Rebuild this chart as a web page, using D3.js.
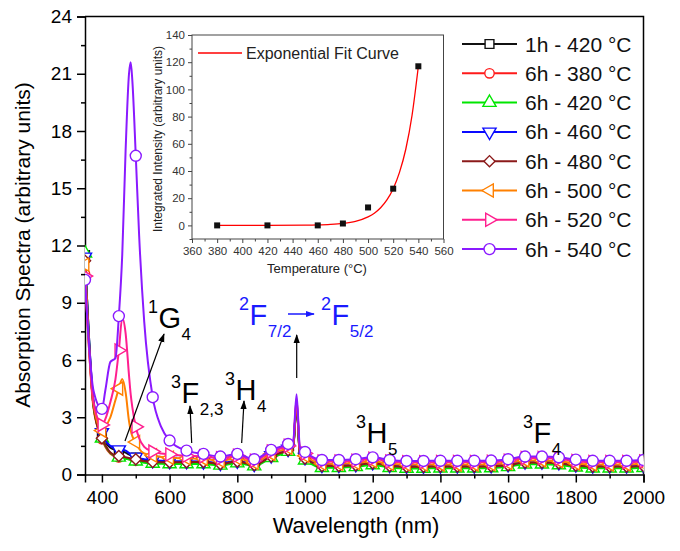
<!DOCTYPE html>
<html>
<head>
<meta charset="utf-8">
<script src="https://cdn.jsdelivr.net/npm/d3@7"></script>
<style>
    body { margin: 0; background: #fff; }
    svg { font-family: Arial, "Liberation Sans", Helvetica, sans-serif; }
</style>
</head>
<body>
<svg id="chart" width="680" height="551"></svg>
<script>
// wavelength grid (nm) shared by all spectra
var wavelengths = [350,375,400,410,425,440,450,460,470,480,485,490,500,510,525,550,575,600,
    650,700,750,800,850,900,950,965,975,985,
    1000,1050,1100,1150,1200,1250,1300,1350,1400,1450,1500,1550,1600,1650,1700,1750,1800,1850,1900,1950,2000];

var seriesNames = ["1h - 420 °C","6h - 380 °C","6h - 420 °C","6h - 460 °C","6h - 480 °C","6h - 500 °C","6h - 520 °C","6h - 540 °C"];
var seriesColors = ["#111111","#ff1a1a","#00e600","#0a0aff","#8b1a1a","#ff8000","#ff1f8f","#8a1aff"];
var seriesSymbols = ["square","circle","triangleUp","triangleDown","diamond","triangleLeft","triangleRight","bigCircle"];

var abs1h420 = [11.5,3.8,2.05,1.7,1.4,1.28,1.22,1.2,1.15,1.05,1.0,0.95,0.88,0.82,0.76,0.72,0.68,0.66,
    0.66,0.64,0.56,0.68,0.52,0.96,1.3,1.45,3.7,1.05,
    0.85,0.47,0.47,0.51,0.61,0.47,0.43,0.43,0.44,0.44,0.44,0.45,0.51,0.65,0.65,0.61,0.49,0.44,0.44,0.44,0.47];
var abs6h380 = [10.5,3.5,1.85,1.45,1.08,0.95,0.9,0.88,0.85,0.8,0.78,0.76,0.72,0.7,0.65,0.62,0.6,0.6,
    0.6,0.6,0.52,0.64,0.48,0.92,1.25,1.4,3.6,1.0,
    0.8,0.42,0.42,0.46,0.56,0.42,0.38,0.38,0.39,0.39,0.39,0.4,0.46,0.6,0.6,0.56,0.44,0.39,0.39,0.39,0.42];
var abs6h420 = [11.6,3.6,1.9,1.5,1.12,0.95,0.9,0.87,0.83,0.78,0.76,0.74,0.7,0.66,0.62,0.58,0.56,0.55,
    0.55,0.55,0.48,0.6,0.44,0.88,1.2,1.36,3.6,0.95,
    0.75,0.36,0.36,0.4,0.5,0.36,0.32,0.32,0.33,0.33,0.33,0.34,0.4,0.54,0.54,0.5,0.38,0.33,0.33,0.33,0.36];
var abs6h460 = [11.4,3.9,2.2,1.8,1.5,1.35,1.3,1.3,1.25,1.12,1.06,1.0,0.92,0.86,0.8,0.75,0.72,0.7,
    0.7,0.68,0.6,0.72,0.55,1.0,1.33,1.48,3.8,1.1,
    0.9,0.5,0.5,0.54,0.64,0.5,0.46,0.46,0.47,0.47,0.47,0.48,0.54,0.68,0.68,0.64,0.52,0.47,0.47,0.47,0.5];
var abs6h480 = [11.2,3.6,1.9,1.55,1.15,1.0,0.97,0.95,0.9,0.86,0.84,0.82,0.8,0.75,0.7,0.66,0.64,0.64,
    0.64,0.66,0.55,0.68,0.5,0.95,1.28,1.42,3.7,1.02,
    0.84,0.45,0.45,0.49,0.59,0.45,0.41,0.41,0.42,0.42,0.42,0.43,0.49,0.63,0.63,0.59,0.47,0.42,0.42,0.42,0.45];
var abs6h500 = [11.0,3.7,2.3,2.5,3.0,3.9,4.5,5.0,4.3,2.8,2.3,2.0,1.7,1.35,1.1,1.0,0.92,0.88,
    0.85,0.82,0.72,0.85,0.62,1.08,1.4,1.55,3.9,1.2,
    0.98,0.56,0.56,0.6,0.7,0.56,0.52,0.52,0.53,0.53,0.53,0.54,0.6,0.74,0.74,0.7,0.58,0.53,0.53,0.53,0.56];
var abs6h520 = [10.4,3.8,2.6,2.9,3.8,5.0,6.5,8.2,7.4,5.2,4.2,3.5,2.5,1.9,1.45,1.2,1.1,1.05,
    0.98,0.95,0.85,0.98,0.72,1.2,1.5,1.65,4.0,1.3,
    1.1,0.68,0.68,0.72,0.82,0.68,0.64,0.64,0.65,0.65,0.65,0.66,0.72,0.86,0.86,0.82,0.7,0.65,0.65,0.65,0.68];
var abs6h540 = [10.2,4.4,3.44,4.4,5.9,6.1,8.3,11.5,17.0,21.0,21.6,20.6,16.7,12.5,8.0,4.05,2.5,1.78,
    1.25,1.08,0.94,1.08,0.8,1.29,1.6,1.75,4.2,1.4,
    1.18,0.76,0.76,0.8,0.9,0.76,0.71,0.71,0.72,0.72,0.72,0.73,0.8,0.94,0.94,0.9,0.78,0.72,0.72,0.72,0.76];
var spectra = [abs1h420,abs6h380,abs6h420,abs6h460,abs6h480,abs6h500,abs6h520,abs6h540];

// inset: integrated intensity vs temperature
var insetTemps = [380,420,460,480,500,520,540];
var insetIntensity = [0,0,0,1.4,13.2,27,117];
var fitTemps = [380,420,450,460,470,480,490,500,505,510,515,520,525,530,535,540];
var fitIntensity = [0,0.02,0.16,0.33,0.7,1.45,3.0,6.3,9.0,13,18.7,27,39,56,81,117];

var xTicks = [400,600,800,1000,1200,1400,1600,1800,2000];
var xMinor = [500,700,900,1100,1300,1500,1700,1900];
var yTicks = [0,3,6,9,12,15,18,21,24];
var yMinor = [1.5,4.5,7.5,10.5,13.5,16.5,19.5,22.5];
var insetXTicks = [360,380,400,420,440,460,480,500,520,540,560];
var insetYTicks = [0,20,40,60,80,100,120,140];

var svg = d3.select("#chart");

var x = d3.scaleLinear().domain([350, 2000]).range([85, 643.5]);
var y = d3.scaleLinear().domain([0, 24]).range([474.5, 16.5]);

// arrowheads
var defs = svg.append("defs");
[["arr", "#000"], ["arrBlue", "#1a1aff"]].forEach(function (m) {
    defs.append("marker")
        .attr("id", m[0]).attr("viewBox", "0 0 10 10")
        .attr("refX", 9).attr("refY", 5)
        .attr("markerWidth", 9).attr("markerHeight", 9)
        .attr("markerUnits", "userSpaceOnUse")
        .attr("orient", "auto")
        .append("path").attr("d", "M0,1.5L10,5L0,8.5Z").attr("fill", m[1]);
});
defs.append("clipPath").attr("id", "plotClip")
    .append("rect").attr("x", 85).attr("y", 16.5).attr("width", 558.5).attr("height", 458);

// axes
svg.append("g").attr("transform", "translate(0," + y(0) + ")")
    .call(d3.axisBottom(x).tickValues(xTicks).tickSize(8).tickPadding(8).tickFormat(d3.format("d")));
svg.append("g").attr("transform", "translate(0," + y(0) + ")")
    .call(d3.axisBottom(x).tickValues(xMinor).tickSize(4).tickFormat(""))
    .call(function (g) { g.select(".domain").remove(); });
svg.append("g").attr("transform", "translate(" + x(350) + ",0)")
    .call(d3.axisLeft(y).tickValues(yTicks).tickSize(8).tickPadding(5));
svg.append("g").attr("transform", "translate(" + x(350) + ",0)")
    .call(d3.axisLeft(y).tickValues(yMinor).tickSize(4).tickFormat(""))
    .call(function (g) { g.select(".domain").remove(); });
svg.selectAll(".tick text").attr("font-size", 19).attr("fill", "#000")
    .attr("font-family", "Arial, 'Liberation Sans', sans-serif");
svg.selectAll(".tick line").attr("stroke-width", 1.5);
svg.selectAll(".domain").attr("stroke-width", 1.5);

// top + right frame
svg.append("path")
    .attr("d", "M" + x(350) + "," + y(24) + "H" + x(2000) + "V" + y(0))
    .attr("fill", "none").attr("stroke", "#000").attr("stroke-width", 1.5);

// axis titles
svg.append("text").attr("x", 356).attr("y", 533).attr("text-anchor", "middle")
    .attr("font-size", 22).text("Wavelength (nm)");
svg.append("text").attr("transform", "translate(30,245) rotate(-90)").attr("text-anchor", "middle")
    .attr("font-size", 21).text("Absorption Spectra (arbitrary units)");

// symbol paths
function symbolPath(kind) {
    if (kind === "square") return d3.symbol(d3.symbolSquare, 78)();
    if (kind === "circle") return d3.symbol(d3.symbolCircle, 70)();
    if (kind === "bigCircle") return d3.symbol(d3.symbolCircle, 95)();
    if (kind === "diamond") return d3.symbol(d3.symbolSquare, 62)();
    return d3.symbol(d3.symbolTriangle, 75)();
}
function symbolRotate(kind) {
    if (kind === "triangleDown") return 180;
    if (kind === "triangleLeft") return -90;
    if (kind === "triangleRight") return 90;
    if (kind === "diamond") return 45;
    return 0;
}

var line = d3.line()
    .x(function (d) { return x(d[0]); })
    .y(function (d) { return y(d[1]); })
    .curve(d3.curveMonotoneX);

var plot = svg.append("g").attr("clip-path", "url(#plotClip)");

spectra.forEach(function (vals, i) {
    var pts = wavelengths.map(function (w, j) { return [w, vals[j]]; });
    plot.append("path")
        .datum(pts)
        .attr("d", line)
        .attr("fill", "none")
        .attr("stroke", seriesColors[i])
        .attr("stroke-width", 2);
    plot.append("g").selectAll("path")
        .data(pts.filter(function (d) { return d[0] % 50 === 0; }))
        .join("path")
        .attr("d", symbolPath(seriesSymbols[i]))
        .attr("transform", function (d) {
            return "translate(" + x(d[0]) + "," + y(d[1]) + ") rotate(" + symbolRotate(seriesSymbols[i]) + ")";
        })
        .attr("fill", "#fff")
        .attr("stroke", seriesColors[i])
        .attr("stroke-width", 1.4);
});

// legend
var legend = svg.append("g");
seriesNames.forEach(function (name, i) {
    var ly = 44 + i * 29.3;
    legend.append("line").attr("x1", 462).attr("x2", 517).attr("y1", ly).attr("y2", ly)
        .attr("stroke", seriesColors[i]).attr("stroke-width", 2);
    legend.append("path").attr("d", symbolPath(seriesSymbols[i]))
        .attr("transform", "translate(489.5," + ly + ") rotate(" + symbolRotate(seriesSymbols[i]) + ")")
        .attr("fill", "#fff").attr("stroke", seriesColors[i]).attr("stroke-width", 1.4);
    legend.append("text").attr("x", 525).attr("y", ly + 7.5)
        .attr("font-size", 21).attr("fill", "#111").text(name);
});

// transition labels: superscript, big letter, subscript placed side by side
function level(g, x0, pre, main, sub, base, color) {
    var t = g.append("g").attr("fill", color || "#000");
    var p = t.append("text").attr("x", x0).attr("y", base - 15).attr("font-size", 18).text(pre);
    var mx = x0 + p.node().getComputedTextLength() + 0.5;
    var m = t.append("text").attr("x", mx).attr("y", base).attr("font-size", 29).text(main);
    var sx = mx + m.node().getComputedTextLength() + 0.5;
    t.append("text").attr("x", sx).attr("y", base + 12).attr("font-size", 17).text(sub);
}
var ann = svg.append("g");
level(ann, 148, "1", "G", "4", 328);
level(ann, 171, "3", "F", "2,3", 403);
level(ann, 225, "3", "H", "4", 400);
level(ann, 356, "3", "H", "5", 443);
level(ann, 523, "3", "F", "4", 443);
level(ann, 239, "2", "F", "7/2", 325, "#1a1aff");
level(ann, 321, "2", "F", "5/2", 325, "#1a1aff");
ann.append("line").attr("x1", 288).attr("y1", 314).attr("x2", 314).attr("y2", 314)
    .attr("stroke", "#1a1aff").attr("stroke-width", 1.5).attr("marker-end", "url(#arrBlue)");

var arrows = [[125, 441, 164, 334], [191.7, 443, 190, 406], [241.7, 443, 244, 401], [296.7, 378, 296.7, 335]];
arrows.forEach(function (a) {
    ann.append("line").attr("x1", a[0]).attr("y1", a[1]).attr("x2", a[2]).attr("y2", a[3])
        .attr("stroke", "#000").attr("stroke-width", 1.2).attr("marker-end", "url(#arr)");
});

// ---------- inset ----------
var ix = d3.scaleLinear().domain([360, 560]).range([192, 443.5]);
var iy = d3.scaleLinear().domain([-10, 140]).range([239, 35]);
var inset = svg.append("g");

inset.append("rect").attr("x", ix(360)).attr("y", iy(140))
    .attr("width", ix(560) - ix(360)).attr("height", iy(-10) - iy(140))
    .attr("fill", "#fff").attr("stroke", "#444").attr("stroke-width", 1);

inset.append("g").attr("transform", "translate(0," + iy(-10) + ")")
    .call(d3.axisBottom(ix).tickValues(insetXTicks).tickSize(4).tickPadding(4))
    .call(function (g) { g.select(".domain").remove(); });
inset.append("g").attr("transform", "translate(0," + iy(-10) + ")")
    .call(d3.axisBottom(ix).tickValues(d3.range(370, 560, 20)).tickSize(2.5).tickFormat(""))
    .call(function (g) { g.select(".domain").remove(); });
inset.append("g").attr("transform", "translate(" + ix(360) + ",0)")
    .call(d3.axisLeft(iy).tickValues(insetYTicks).tickSize(4).tickPadding(3))
    .call(function (g) { g.select(".domain").remove(); });
inset.append("g").attr("transform", "translate(" + ix(360) + ",0)")
    .call(d3.axisLeft(iy).tickValues(d3.range(-10, 140, 20)).tickSize(2.5).tickFormat(""))
    .call(function (g) { g.select(".domain").remove(); });
inset.selectAll(".tick text").attr("font-size", 11.5).attr("fill", "#333")
    .attr("font-family", "Arial, 'Liberation Sans', sans-serif");
inset.selectAll(".tick line").attr("stroke", "#444");

inset.append("path")
    .datum(fitTemps.map(function (t, i) { return [t, fitIntensity[i]]; }))
    .attr("d", d3.line().x(function (d) { return ix(d[0]); }).y(function (d) { return iy(d[1]); })
        .curve(d3.curveMonotoneX))
    .attr("fill", "none").attr("stroke", "#ff0000").attr("stroke-width", 1.3);

inset.selectAll(".pt")
    .data(insetTemps.map(function (t, i) { return [t, insetIntensity[i]]; }))
    .join("rect").attr("class", "pt")
    .attr("x", function (d) { return ix(d[0]) - 3; })
    .attr("y", function (d) { return iy(d[1]) - 3; })
    .attr("width", 6).attr("height", 6).attr("fill", "#111");

inset.append("line").attr("x1", 198).attr("x2", 242).attr("y1", 53).attr("y2", 53)
    .attr("stroke", "#ff0000").attr("stroke-width", 1.3);
inset.append("text").attr("x", 246).attr("y", 59).attr("font-size", 16).attr("fill", "#222")
    .text("Exponential Fit Curve");

inset.append("text").attr("x", 317).attr("y", 273).attr("text-anchor", "middle")
    .attr("font-size", 13).attr("fill", "#222").text("Temperature (°C)");
inset.append("text").attr("transform", "translate(162,139) rotate(-90)").attr("text-anchor", "middle")
    .attr("font-size", 12).attr("fill", "#222").text("Integrated Intensity (arbitrary units)");
</script>
</body>
</html>
